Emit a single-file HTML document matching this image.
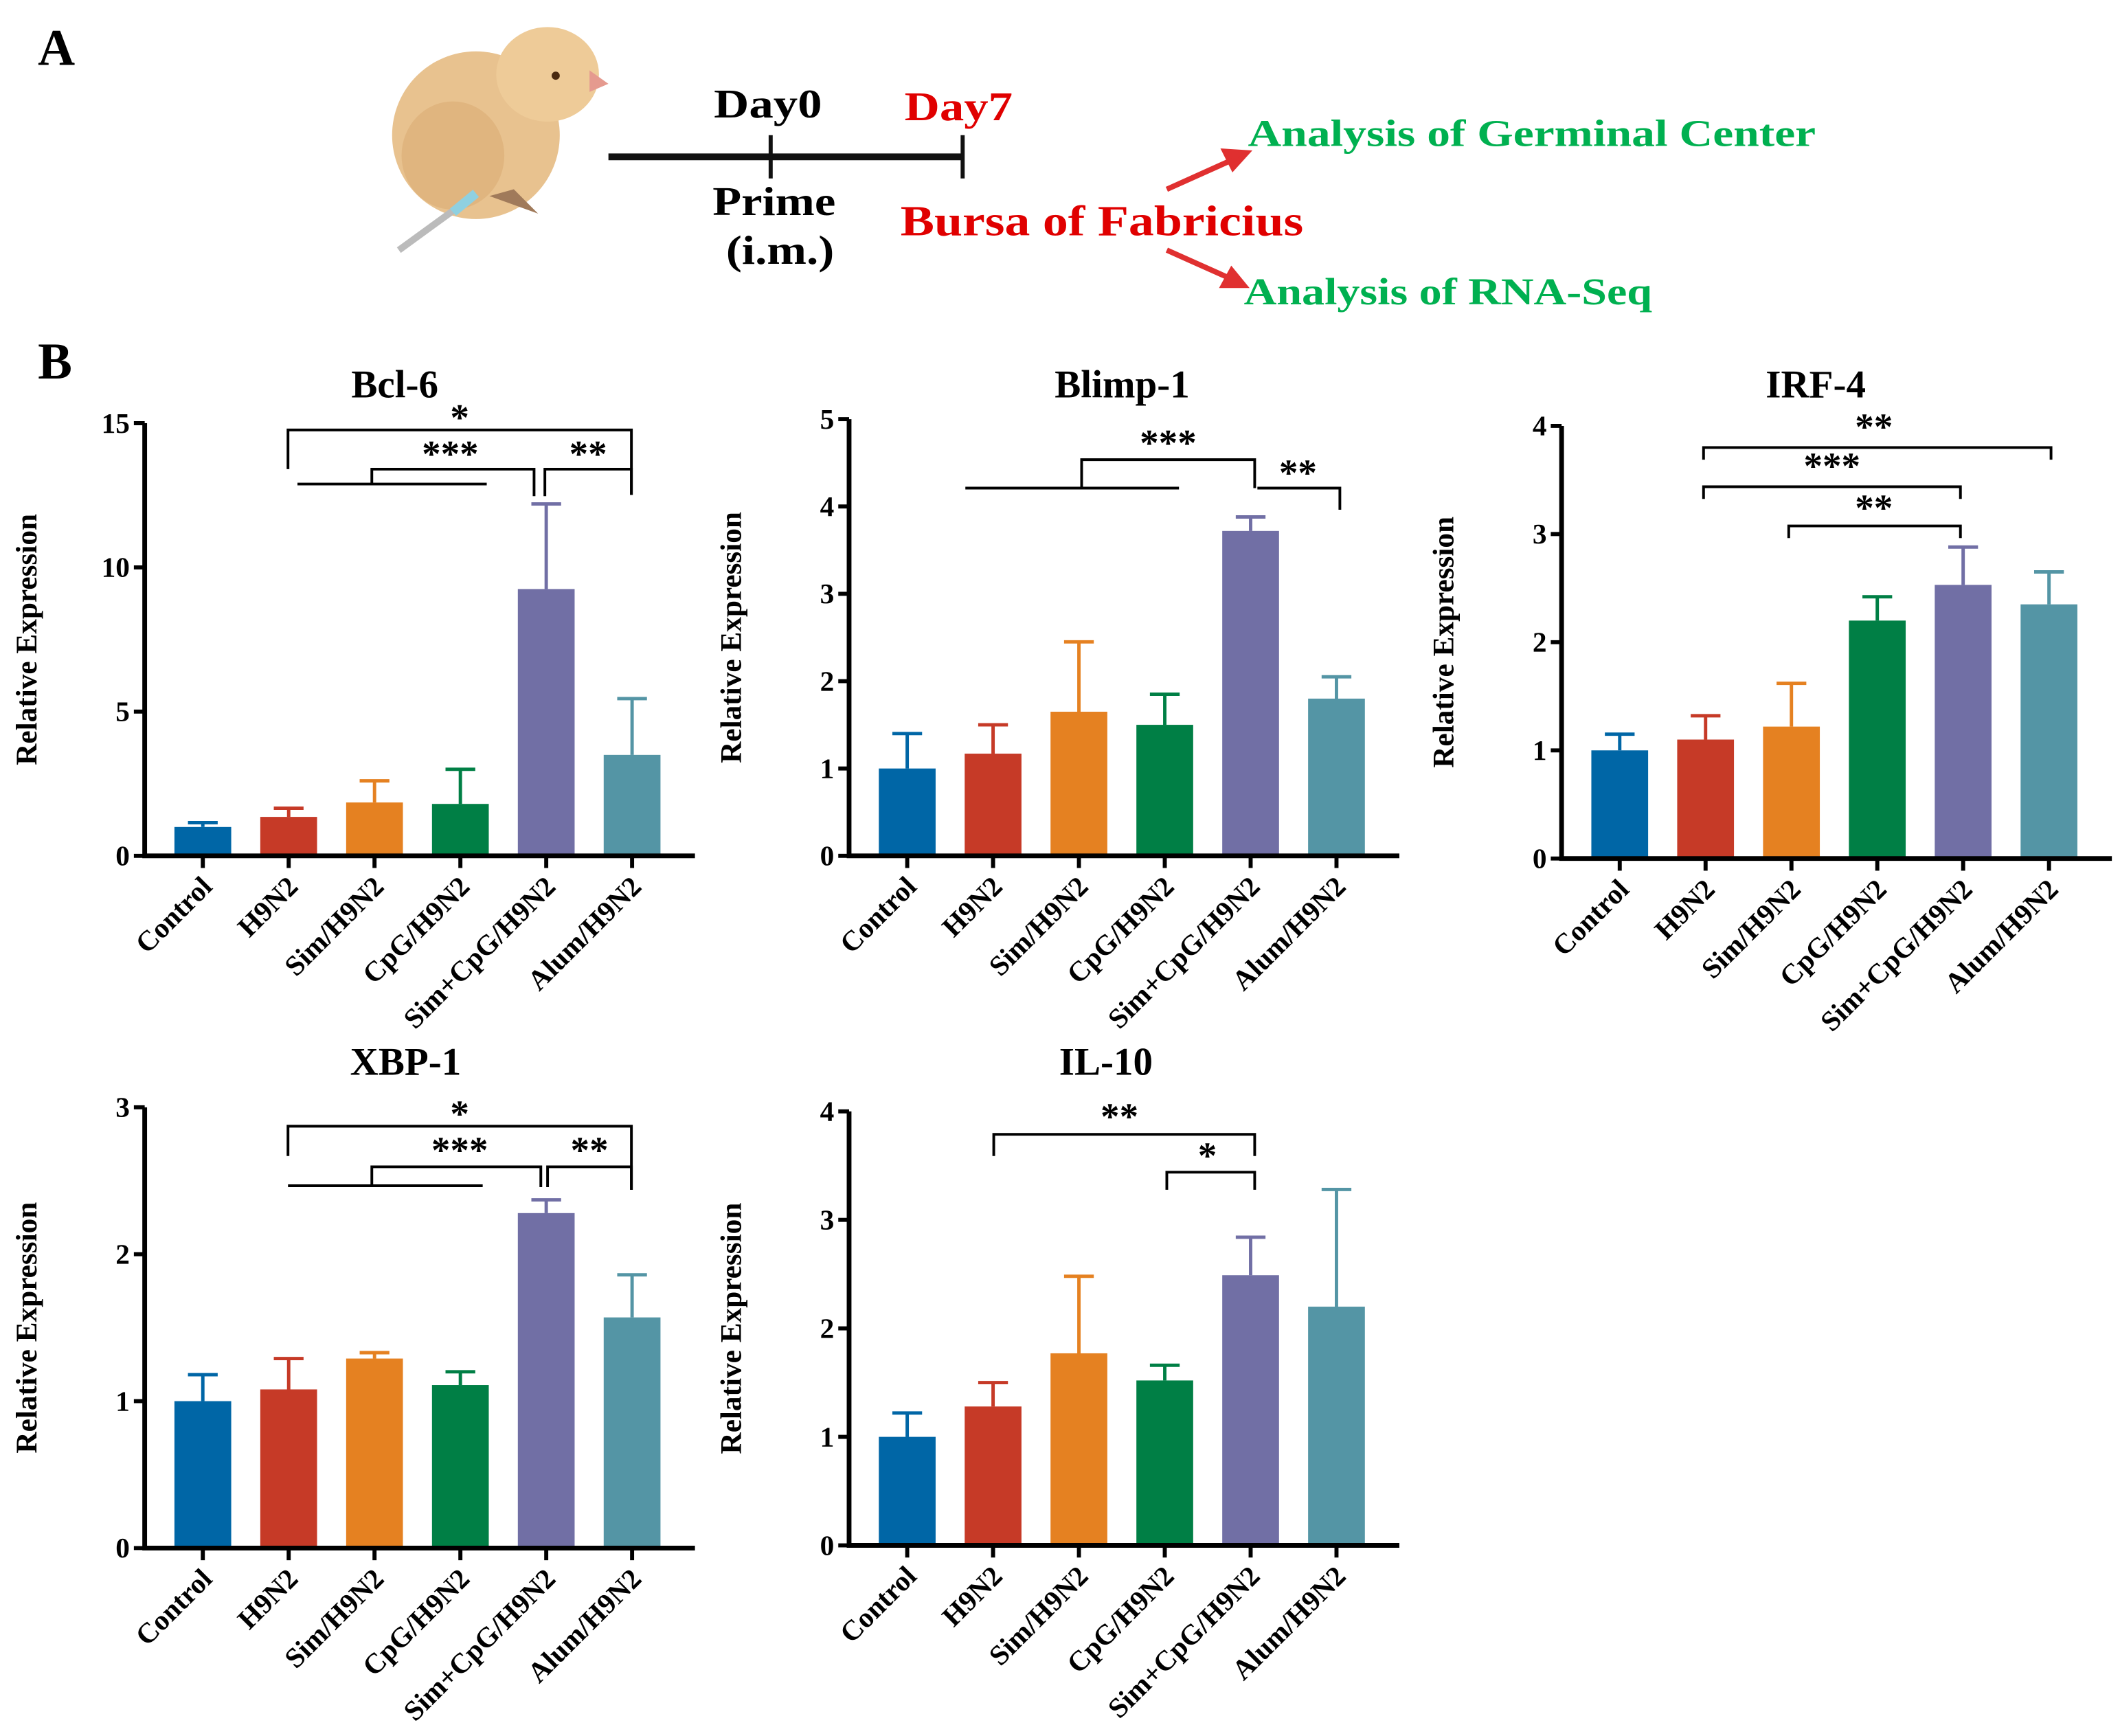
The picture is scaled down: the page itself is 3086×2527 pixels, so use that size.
<!DOCTYPE html>
<html><head><meta charset="utf-8"><style>
html,body{margin:0;padding:0;background:#fff;}
svg{display:block;}
text{font-family:"Liberation Serif",serif;font-weight:bold;}
</style></head><body>
<svg id="fig" width="3086" height="2527" viewBox="0 0 1568 1284" xmlns="http://www.w3.org/2000/svg">
<g id="panelA">
<text x="28" y="48" font-size="38">A</text>
<g>
<ellipse cx="352" cy="100" rx="62" ry="62" fill="#e8c28f"/>
<ellipse cx="405" cy="55" rx="38" ry="35" fill="#eecb98"/>
<ellipse cx="335" cy="115" rx="38" ry="40" fill="#e0b57f"/>
<path d="M436 52 L450 62 L436 68 Z" fill="#e59a8f"/>
<circle cx="411" cy="56" r="3" fill="#4a2a10"/>
<path d="M362 145 L398 158 L380 140 Z" fill="#a07a5a"/>
<line x1="295" y1="185" x2="350" y2="145" stroke="#bbb" stroke-width="5"/>
<line x1="335" y1="157" x2="352" y2="143" stroke="#8fd0e0" stroke-width="7"/>
</g>
<g>
<line x1="450" y1="116" x2="712" y2="116" stroke="#111" stroke-width="5"/>
<line x1="570" y1="100" x2="570" y2="132" stroke="#111" stroke-width="3"/>
<line x1="712" y1="100" x2="712" y2="132" stroke="#111" stroke-width="3"/>
</g>
<text x="528" y="87" font-size="30" textLength="80" lengthAdjust="spacingAndGlyphs">Day0</text>
<text x="669" y="89" font-size="30" textLength="80" lengthAdjust="spacingAndGlyphs" fill="#e00000">Day7</text>
<text x="527" y="159" font-size="30" textLength="91" lengthAdjust="spacingAndGlyphs">Prime</text>
<text x="537" y="195" font-size="30" textLength="80" lengthAdjust="spacingAndGlyphs">(i.m.)</text>
<text x="666" y="174" font-size="32" textLength="298" lengthAdjust="spacingAndGlyphs" fill="#e00000">Bursa of Fabricius</text>
<text x="923" y="108" font-size="28" textLength="420" lengthAdjust="spacingAndGlyphs" fill="#00b050">Analysis of Germinal Center</text>
<text x="920" y="225" font-size="28" textLength="302" lengthAdjust="spacingAndGlyphs" fill="#00b050">Analysis of RNA-Seq</text>
<g stroke="#e03030" stroke-width="4" fill="#e03030">
<line x1="863" y1="140" x2="912" y2="118"/><path d="M922 113 L906 112 L912 124 Z"/>
<line x1="863" y1="185" x2="910" y2="206"/><path d="M920 211 L905 211 L911 200 Z"/>
</g>
</g>
<text x="28" y="280" font-size="38">B</text>
<g id="charts"></g>
</svg>
<script>
const categories = ["Control","H9N2","Sim/H9N2","CpG/H9N2","Sim+CpG/H9N2","Alum/H9N2"];
const colors = ["#0066a6","#c63a27","#e58121","#007f45","#716fa5","#5495a5"];
const bcl6Means = [1.0,1.35,1.85,1.8,9.25,3.5];
const bcl6Upper = [1.15,1.65,2.6,3.0,12.2,5.45];
const blimpMeans = [1.0,1.17,1.65,1.5,3.72,1.8];
const blimpUpper = [1.4,1.5,2.45,1.85,3.88,2.05];
const irfMeans = [1.0,1.1,1.22,2.2,2.53,2.35];
const irfUpper = [1.15,1.32,1.62,2.42,2.88,2.65];
const xbpMeans = [1.0,1.08,1.29,1.11,2.28,1.57];
const xbpUpper = [1.18,1.29,1.33,1.2,2.37,1.86];
const il10Means = [1.0,1.28,1.77,1.52,2.49,2.2];
const il10Upper = [1.22,1.5,2.48,1.66,2.84,3.28];
const bcl6Ticks = [0,5,10,15];
const blimpTicks = [0,1,2,3,4,5];
const irfTicks = [0,1,2,3,4];
const xbpTicks = [0,1,2,3];
const il10Ticks = [0,1,2,3,4];

const NS="http://www.w3.org/2000/svg";
const root=document.getElementById('charts');
function mk(tag,attrs,parent){const e=document.createElementNS(NS,tag);for(const k in attrs)e.setAttribute(k,attrs[k]);parent.appendChild(e);return e;}

const panels=[
 {id:'bcl-6',title:'Bcl-6',ax:107,top:313,bot:633,max:15,ticks:bcl6Ticks,m:bcl6Means,u:bcl6Upper,tx:292,ty:294},
 {id:'blimp-1',title:'Blimp-1',ax:628,top:310,bot:633,max:5,ticks:blimpTicks,m:blimpMeans,u:blimpUpper,tx:830,ty:294},
 {id:'irf-4',title:'IRF-4',ax:1155,top:315,bot:635,max:4,ticks:irfTicks,m:irfMeans,u:irfUpper,tx:1343,ty:294},
 {id:'xbp-1',title:'XBP-1',ax:107,top:819,bot:1145,max:3,ticks:xbpTicks,m:xbpMeans,u:xbpUpper,tx:300,ty:795},
 {id:'il-10',title:'IL-10',ax:628,top:822,bot:1143,max:4,ticks:il10Ticks,m:il10Means,u:il10Upper,tx:818,ty:795}
];
const brackets={
 'bcl-6':['M213 347 V318 H467 V366','M220 358 H360','M275 358 V347 H395 V367','M403 367 V347 H467 V366'],
 'blimp-1':['M714 361 H872','M800 361 V340 H928 V361','M930 361 H991 V377'],
 'irf-4':['M1260 340 V331 H1517 V340','M1260 369 V360 H1450 V369','M1323 398 V389 H1450 V398'],
 'xbp-1':['M213 855 V833 H467 V880','M213 877 H357','M275 877 V863 H400 V878','M405 878 V863 H467 V880'],
 'il-10':['M735 855 V839 H928 V855','M863 880 V867 H928 V880']
};
const stars={
 'bcl-6':[[340,318,'*'],[333,345,'***'],[435,345,'**']],
 'blimp-1':[[864,337,'***'],[960,359,'**']],
 'irf-4':[[1386,325,'**'],[1355,354,'***'],[1386,385,'**']],
 'xbp-1':[[340,833,'*'],[340,860,'***'],[436,860,'**']],
 'il-10':[[828,835,'**'],[893,864,'*']]
};
panels.forEach(p=>{
 const g=mk('g',{},root);
 
 
 const y=v=>p.bot-(v/p.max)*(p.bot-p.top);
 const x=i=>p.ax+43+i*63.5;
 const t=mk('text',{x:p.tx,y:p.ty,'font-size':29,'text-anchor':'middle'},g);t.textContent=p.title;
 
 
 const yt=mk('text',{transform:`translate(${p.ax-80},${(p.top+p.bot)/2}) rotate(-90)`,'font-size':22,'text-anchor':'middle'},g);yt.textContent='Relative Expression';
 
 
 p.m.forEach((v,i)=>{
  const cx=x(i);
  const b=mk('rect',{x:cx-21,y:y(v),width:42,height:p.bot-y(v),fill:colors[i]},g);
  
  
  const e=mk('path',{d:`M${cx} ${y(v)} V${y(p.u[i])} M${cx-11} ${y(p.u[i])} H${cx+11}`,stroke:colors[i],'stroke-width':2.5,fill:'none'},g);
  
  
  mk('line',{x1:cx,y1:p.bot,x2:cx,y2:p.bot+9,stroke:'#000','stroke-width':3},g);
  const l=mk('text',{transform:`translate(${cx+8},${p.bot+24}) rotate(-45)`,'font-size':21,'text-anchor':'end'},g);l.textContent=categories[i];
  
  
 });
 const ax=mk('path',{d:`M${p.ax} ${p.top} V${p.bot} H${p.ax+407}`,stroke:'#000','stroke-width':3.5,fill:'none'},g);
 
 
 p.ticks.forEach(tv=>{
  mk('line',{x1:p.ax-8,y1:y(tv),x2:p.ax,y2:y(tv),stroke:'#000','stroke-width':3},g);
  const tl=mk('text',{x:p.ax-11,y:y(tv)+7,'font-size':21,'text-anchor':'end'},g);tl.textContent=tv;
  
  
 });
 brackets[p.id].forEach(d=>{
  const br=mk('path',{d:d,stroke:'#000','stroke-width':2,fill:'none'},g);
  
  
 });
 stars[p.id].forEach(s=>{
  const st=mk('text',{x:s[0],y:s[1],'font-size':28,'text-anchor':'middle','font-family':'"Liberation Sans",sans-serif'},g);st.textContent=s[2];
  
  
 });
});
</script>
</body></html>
